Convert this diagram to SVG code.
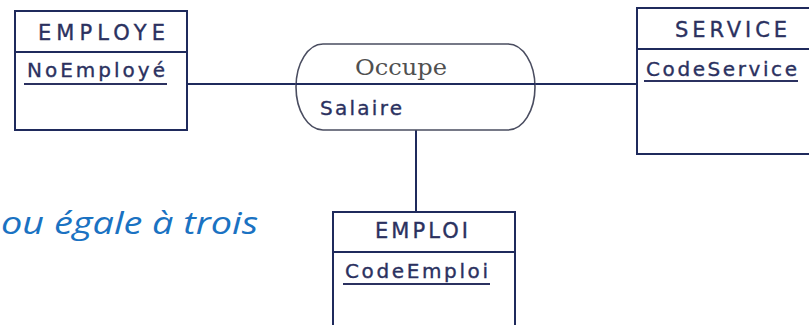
<svg xmlns="http://www.w3.org/2000/svg" width="809" height="325" viewBox="0 0 809 325">
  <style>
    .box { fill: #ffffff; stroke: #1f2a5c; stroke-width: 2; }
    .div { stroke: #1f2a5c; stroke-width: 2; }
    .title { font-family: "DejaVu Sans", Verdana, sans-serif; font-size: 21px; fill: #2b3160; stroke: #2b3160; stroke-width: 0.35; }
    .attr { font-family: "DejaVu Sans", Verdana, sans-serif; font-size: 20px; fill: #2b3160; stroke: #2b3160; stroke-width: 0.35; }
    .ul { stroke: #2b3160; stroke-width: 2; }
    .rel { fill: #ffffff; stroke: #4a4d60; stroke-width: 1.6; }
    .reltitle { font-family: "DejaVu Serif", serif; font-size: 22px; fill: #505050; }
    .link { stroke: #1f2a5c; stroke-width: 2; fill: none; }
    .note { font-family: "Open Sans", "Noto Sans", sans-serif; font-style: italic; font-size: 31px; fill: #1a72c2; }
  </style>

  <rect width="809" height="325" fill="#ffffff"/>

  <!-- connectors -->
  <g id="connectors">
    <line class="link" x1="187" y1="84" x2="296" y2="84"/>
    <line class="link" x1="535" y1="84" x2="637" y2="84"/>
    <line class="link" x1="416" y1="130" x2="416" y2="212"/>
  </g>

  <!-- entity EMPLOYE -->
  <g id="employe">
    <rect class="box" x="15" y="11" width="172" height="119"/>
    <line class="div" x1="15" y1="52" x2="187" y2="52"/>
    <text class="title" x="38" y="40" textLength="127" lengthAdjust="spacing">EMPLOYE</text>
    <text class="attr" x="27" y="77" textLength="138" lengthAdjust="spacing">NoEmployé</text>
    <line class="ul" x1="24" y1="84" x2="167" y2="84"/>
  </g>

  <!-- association Occupe -->
  <g id="occupe">
    <rect class="rel" x="296" y="44" width="239" height="86" rx="27" ry="43"/>
    <line class="div" x1="296" y1="84" x2="535" y2="84"/>
    <text class="reltitle" x="355" y="75" textLength="92" lengthAdjust="spacingAndGlyphs">Occupe</text>
    <text class="attr" x="320" y="115" textLength="82" lengthAdjust="spacing">Salaire</text>
  </g>

  <!-- entity SERVICE -->
  <g id="service">
    <rect class="box" x="637" y="8" width="183" height="146"/>
    <line class="div" x1="637" y1="49" x2="820" y2="49"/>
    <text class="title" x="675" y="37" textLength="112" lengthAdjust="spacing">SERVICE</text>
    <text class="attr" x="646" y="76" textLength="151" lengthAdjust="spacing">CodeService</text>
    <line class="ul" x1="644" y1="81" x2="798" y2="81"/>
  </g>

  <!-- entity EMPLOI -->
  <g id="emploi">
    <rect class="box" x="333" y="212" width="182" height="125"/>
    <line class="div" x1="333" y1="252" x2="515" y2="252"/>
    <text class="title" x="375" y="238" textLength="93" lengthAdjust="spacing">EMPLOI</text>
    <text class="attr" x="345" y="278" textLength="143" lengthAdjust="spacing">CodeEmploi</text>
    <line class="ul" x1="343" y1="284" x2="490" y2="284"/>
  </g>

  <!-- caption fragment -->
  <text class="note" x="1" y="234" textLength="257" lengthAdjust="spacingAndGlyphs">ou égale à trois</text>
</svg>
